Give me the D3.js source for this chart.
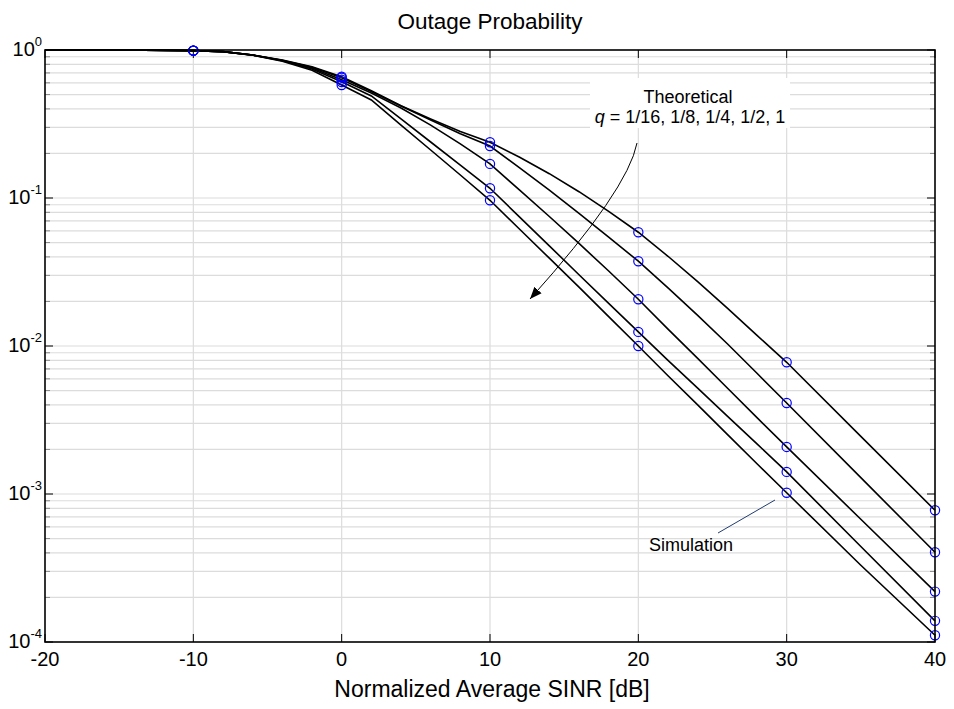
<!DOCTYPE html>
<html><head><meta charset="utf-8">
<script src="https://cdn.jsdelivr.net/npm/d3@7"></script>
<style>body{margin:0;background:#fff}svg{display:block}text{font-family:"Liberation Sans",Arial,sans-serif}</style>
</head><body>
<svg id="chart" width="954" height="709"></svg>
<script>
// ---- data ----
const xTheory = [-20,-15,-10,-8,-6,-4,-2,0,2,4,6,8,10,12,14,16,18,20,22,24,26,28,30,35,40];
const theoryQ16 = [1,1,0.99,0.975,0.925,0.855,0.77,0.66,0.53,0.42,0.342,0.281,0.238,0.1884,0.146,0.1103,0.0813,0.0587,0.0404,0.0272,0.018,0.0118,0.00776,0.00245,0.000776];
const theoryQ8  = [1,1,0.99,0.975,0.925,0.853,0.765,0.65,0.524,0.418,0.337,0.272,0.2246,0.16,0.1129,0.0788,0.0544,0.0374,0.0247,0.0161,0.01035,0.00654,0.00412,0.00129,0.000404];
const theoryQ4  = [1,1,0.99,0.975,0.925,0.85,0.755,0.63,0.512,0.406,0.311,0.232,0.170,0.113,0.075,0.0493,0.0321,0.0207,0.013,0.00824,0.0052,0.00328,0.00208,0.000675,0.000219];
const theoryQ2  = [1,1,0.99,0.975,0.924,0.846,0.745,0.61,0.489,0.342,0.239,0.167,0.1163,0.0743,0.0475,0.0303,0.0194,0.01245,0.008,0.00519,0.00336,0.00218,0.00141,0.000442,0.000139];
const theoryQ1  = [1,1,0.99,0.975,0.922,0.84,0.73,0.58,0.46,0.311,0.211,0.143,0.0965,0.0615,0.0392,0.025,0.0158,0.01,0.0063,0.004,0.00253,0.0016,0.00102,0.00033,0.000111];

const xSim = [-10,0,10,20,30,40];
const simQ16 = [0.99,0.66,0.238,0.0587,0.00776,0.000776];
const simQ8  = [0.99,0.65,0.2246,0.0374,0.00412,0.000404];
const simQ4  = [0.99,0.63,0.170,0.0207,0.00208,0.000219];
const simQ2  = [0.99,0.608,0.1163,0.01245,0.00141,0.000139];
const simQ1  = [0.99,0.58,0.0965,0.01,0.00102,0.000111];

const xTicks = [-20,-10,0,10,20,30,40];
const yExponents = [0,-1,-2,-3,-4];
const titleText = "Outage Probability";
const xLabel = "Normalized Average SINR [dB]";

// ---- drawing ----
const svg = d3.select("#chart");
const L = 45, R = 935, T = 50, B = 642;
const x = d3.scaleLinear().domain([-20,40]).range([L,R]);
const y = d3.scaleLog().domain([1e-4,1]).range([B,T]);

const theories = [theoryQ16,theoryQ8,theoryQ4,theoryQ2,theoryQ1];
const sims = [simQ16,simQ8,simQ4,simQ2,simQ1];

// grid
const g = svg.append("g");
const minor = [];
for (let e=-4; e<0; e++) for (let m=1; m<10; m++) minor.push(m*Math.pow(10,e));
g.selectAll("line.hg").data(minor.filter(v=>v>1e-4)).join("line")
  .attr("x1",L).attr("x2",R).attr("y1",d=>y(d)).attr("y2",d=>y(d))
  .attr("stroke","#dcdcdc").attr("stroke-width",1.2);
g.selectAll("line.vg").data(xTicks.slice(1,-1)).join("line")
  .attr("x1",d=>x(d)).attr("x2",d=>x(d)).attr("y1",T).attr("y2",B)
  .attr("stroke","#dcdcdc").attr("stroke-width",1.2);

// ticks
const minorOnly = minor.filter(v=>Math.abs(Math.log10(v)-Math.round(Math.log10(v)))>1e-6);
g.selectAll("line.lt").data(minorOnly).join("line")
  .attr("x1",L).attr("x2",L+5).attr("y1",d=>y(d)).attr("y2",d=>y(d)).attr("stroke","#888").attr("stroke-width",1);
g.selectAll("line.rt").data(minorOnly).join("line")
  .attr("x1",R-5).attr("x2",R).attr("y1",d=>y(d)).attr("y2",d=>y(d)).attr("stroke","#888").attr("stroke-width",1);
g.selectAll("line.lm").data(yExponents).join("line")
  .attr("x1",L).attr("x2",L+8).attr("y1",d=>y(Math.pow(10,d))).attr("y2",d=>y(Math.pow(10,d))).attr("stroke","#000");
g.selectAll("line.rm").data(yExponents).join("line")
  .attr("x1",R-8).attr("x2",R).attr("y1",d=>y(Math.pow(10,d))).attr("y2",d=>y(Math.pow(10,d))).attr("stroke","#000");
g.selectAll("line.bt").data(xTicks).join("line")
  .attr("x1",d=>x(d)).attr("x2",d=>x(d)).attr("y1",B).attr("y2",B-8).attr("stroke","#000");
g.selectAll("line.tt").data(xTicks).join("line")
  .attr("x1",d=>x(d)).attr("x2",d=>x(d)).attr("y1",T).attr("y2",T+8).attr("stroke","#000");

// annotation box (white) behind text
svg.append("rect").attr("x",590).attr("y",78).attr("width",200).attr("height",50).attr("fill","#fff");

// curves
const line = d3.line().x((d,i)=>x(xTheory[i])).y(d=>y(d));
svg.append("g").selectAll("path").data(theories).join("path")
  .attr("d",line).attr("fill","none").attr("stroke","#000").attr("stroke-width",1.6);

// simulation markers
const simG = svg.append("g");
sims.forEach(s=>{
  simG.selectAll(null).data(s).join("circle")
    .attr("cx",(d,i)=>x(xSim[i])).attr("cy",d=>y(d)).attr("r",4.6)
    .attr("fill","none").attr("stroke","#0000ff").attr("stroke-width",1.2);
});

// frame
svg.append("rect").attr("x",L).attr("y",T).attr("width",R-L).attr("height",B-T)
  .attr("fill","none").attr("stroke","#000").attr("stroke-width",1.6);

// x tick labels
svg.append("g").selectAll("text").data(xTicks).join("text")
  .attr("x",d=>x(d)).attr("y",666).attr("text-anchor","middle").attr("font-size",20).text(d=>d);

// y tick labels
const yl = svg.append("g").selectAll("text").data(yExponents).join("text")
  .attr("x",42).attr("y",d=>y(Math.pow(10,d))+5.5).attr("text-anchor","end").attr("font-size",20);
yl.append("tspan").text("10");
yl.append("tspan").attr("dy",-10).attr("font-size",13).text(d=>d);

// title / label
svg.append("text").attr("x",490).attr("y",29).attr("text-anchor","middle").attr("font-size",22.5).text(titleText);
svg.append("text").attr("x",492).attr("y",697).attr("text-anchor","middle").attr("font-size",23).text(xLabel);

// theoretical annotation
const ann = svg.append("text").attr("text-anchor","middle").attr("font-size",18);
ann.append("tspan").attr("x",688).attr("y",103).text("Theoretical");
const l2 = svg.append("text").attr("text-anchor","middle").attr("font-size",18).attr("x",690).attr("y",123);
l2.append("tspan").attr("font-style","italic").text("q");
l2.append("tspan").text(" = 1/16, 1/8, 1/4, 1/2, 1");

// arrow
svg.append("defs").append("marker").attr("id","ah").attr("viewBox","0 0 10 10")
  .attr("refX",10).attr("refY",5).attr("markerWidth",12).attr("markerHeight",12)
  .attr("markerUnits","userSpaceOnUse").attr("orient","auto")
  .append("path").attr("d","M0,1 L10,5 L0,9 Z").attr("fill","#000");
svg.append("path").attr("d","M637,143 Q628,190 530,299").attr("fill","none")
  .attr("stroke","#000").attr("stroke-width",1).attr("marker-end","url(#ah)");

// simulation annotation
svg.append("line").attr("x1",718).attr("y1",533).attr("x2",775).attr("y2",500)
  .attr("stroke","#203c70").attr("stroke-width",1);
svg.append("text").attr("x",649).attr("y",551).attr("font-size",18).text("Simulation");
</script>
</body></html>
